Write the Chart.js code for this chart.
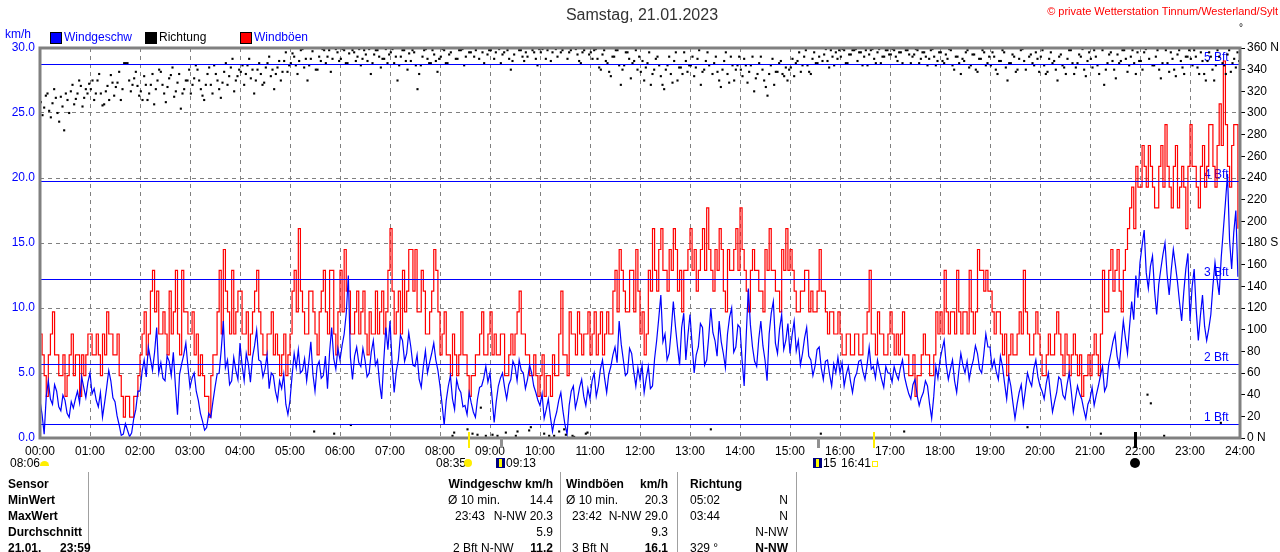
<!DOCTYPE html>
<html>
<head>
<meta charset="utf-8">
<title>Wind 21.01.2023</title>
<script src="https://cdn.jsdelivr.net/npm/chart.js@4.4.1/dist/chart.umd.min.js"></script>
<style>
  body { margin: 0; background: #fff; }
  #page { position: relative; width: 1280px; height: 552px; overflow: hidden; font-family: "Liberation Sans", Arial, sans-serif; font-size: 12px; color: #000; }
  #chart { position: absolute; left: 0; top: 0; }
  .t { position: absolute; white-space: nowrap; line-height: 14px; }
  .b { font-weight: bold; }
  .blue { color: #0000ff; }
  .sq { position: absolute; top: 32px; width: 10px; height: 10px; border: 1px solid #000; }
  .vl { position: absolute; top: 472px; width: 1px; height: 80px; background: #a0a0a0; }
  .moon { position: absolute; top: 458px; width: 9px; height: 10px; background: #000080; }
  .moon i { position: absolute; left: 3px; top: 1px; width: 3px; height: 8px; background: #ffff00; }
</style>
</head>
<body>
<div id="page">
  <canvas id="chart" width="1280" height="552"></canvas>

  <div class="t" style="left:0;width:1284px;top:6px;text-align:center;font-size:16px;line-height:18px;color:#333">Samstag, 21.01.2023</div>
  <div class="t" style="right:2px;top:4px;color:#ff0000;font-size:11px">© private Wetterstation Tinnum/Westerland/Sylt</div>
  <div class="t" style="left:1239px;top:21px;font-size:10px">°</div>

  <div class="t blue" style="left:5px;top:27px">km/h</div>
  <div class="sq" style="left:50px;background:#0000ff"></div>
  <div class="t blue" style="left:64px;top:30px">Windgeschw</div>
  <div class="sq" style="left:145px;background:#000"></div>
  <div class="t" style="left:159px;top:30px">Richtung</div>
  <div class="sq" style="left:240px;background:#ff0000"></div>
  <div class="t blue" style="left:254px;top:30px">Windböen</div>

  <!-- Sonne / Mond unter der Zeitachse -->
  <div class="t" style="left:10px;top:456px">08:06</div>
  <div style="position:absolute;left:40px;top:461px;width:9px;height:5px;background:#ffee00;border-radius:5px 5px 0 0"></div>
  <div class="t" style="left:436px;top:456px">08:35</div>
  <div style="position:absolute;left:464px;top:459px;width:8px;height:8px;background:#ffee00;border-radius:50%"></div>
  <div class="moon" style="left:496px"><i></i></div>
  <div class="t" style="left:506px;top:456px">09:13</div>
  <div class="moon" style="left:813px"><i></i></div>
  <div class="t" style="left:823px;top:456px">15</div>
  <div class="t" style="left:841px;top:456px">16:41</div>
  <div style="position:absolute;left:872px;top:461px;width:4px;height:4px;border:1px solid #ffee00"></div>
  <div style="position:absolute;left:1130px;top:458px;width:10px;height:10px;background:#000;border-radius:50%"></div>

  <!-- Tabelle -->
  <div class="vl" style="left:88px"></div>
  <div class="vl" style="left:560px"></div>
  <div class="vl" style="left:677px"></div>
  <div class="vl" style="left:796px"></div>

  <div class="t b" style="left:8px;top:477px">Sensor</div>
  <div class="t b" style="right:727px;top:477px">Windgeschw km/h</div>
  <div class="t b" style="left:566px;top:477px">Windböen</div>
  <div class="t b" style="right:612px;top:477px">km/h</div>
  <div class="t b" style="left:690px;top:477px">Richtung</div>

  <div class="t b" style="left:8px;top:493px">MinWert</div>
  <div class="t" style="left:448px;top:493px">Ø 10 min.</div>
  <div class="t" style="right:727px;top:493px">14.4</div>
  <div class="t" style="left:566px;top:493px">Ø 10 min.</div>
  <div class="t" style="right:612px;top:493px">20.3</div>
  <div class="t" style="left:690px;top:493px">05:02</div>
  <div class="t" style="right:492px;top:493px">N</div>

  <div class="t b" style="left:8px;top:509px">MaxWert</div>
  <div class="t" style="left:455px;top:509px">23:43</div>
  <div class="t" style="right:727px;top:509px">N-NW 20.3</div>
  <div class="t" style="left:572px;top:509px">23:42</div>
  <div class="t" style="right:612px;top:509px">N-NW 29.0</div>
  <div class="t" style="left:690px;top:509px">03:44</div>
  <div class="t" style="right:492px;top:509px">N</div>

  <div class="t b" style="left:8px;top:525px">Durchschnitt</div>
  <div class="t" style="right:727px;top:525px">5.9</div>
  <div class="t" style="right:612px;top:525px">9.3</div>
  <div class="t" style="right:492px;top:525px">N-NW</div>

  <div class="t b" style="left:8px;top:541px">21.01.</div>
  <div class="t b" style="left:60px;top:541px">23:59</div>
  <div class="t" style="left:453px;top:541px">2 Bft N-NW</div>
  <div class="t b" style="right:727px;top:541px">11.2</div>
  <div class="t" style="left:572px;top:541px">3 Bft N</div>
  <div class="t b" style="right:612px;top:541px">16.1</div>
  <div class="t" style="left:690px;top:541px">329 °</div>
  <div class="t b" style="right:492px;top:541px">N-NW</div>
</div>

<script>
// Windgeschwindigkeit km/h, alle 2,5 Minuten (eine Zeile = eine Stunde)
const wind = [
  2.9, 1.8, 0.3, 3.2, 4.4, 3.0, 2.6, 4.1, 3.6, 2.4, 2.1, 3.3, 2.9, 1.9, 1.6, 2.8, 2.3, 3.0, 3.6, 2.7, 4.7, 3.9, 3.1, 4.3,
  5.0, 3.4, 3.8, 2.9, 2.4, 3.5, 1.6, 2.7, 3.9, 5.2, 4.4, 3.1, 2.8, 1.7, 1.0, 0.2, 0.3, 1.1, 0.6, 0.1, 0.4, 1.5, 2.2, 3.6,
  3.6, 5.1, 6.0, 4.7, 7.0, 6.1, 5.2, 6.6, 8.5, 5.0, 5.8, 4.6, 4.4, 6.3, 5.9, 4.8, 6.6, 4.0, 1.8, 4.9, 5.7, 6.4, 7.3, 5.5,
  3.9, 4.6, 5.0, 3.6, 2.9, 1.9, 1.3, 0.6, 0.8, 1.9, 1.6, 2.8, 3.9, 4.9, 5.0, 6.8, 9.0, 5.4, 6.0, 4.1, 4.4, 6.2, 5.2, 4.5,
  7.3, 5.6, 4.4, 6.5, 5.7, 4.3, 6.2, 7.1, 8.3, 6.0, 5.9, 4.7, 5.3, 6.4, 3.8, 5.0, 4.8, 3.6, 2.9, 4.4, 3.8, 4.9, 2.6, 1.8,
  2.9, 4.8, 6.5, 5.4, 6.8, 5.0, 5.2, 6.1, 4.4, 5.8, 7.4, 4.9, 3.6, 5.5, 5.9, 4.6, 4.8, 6.3, 3.8, 6.6, 8.5, 6.1, 5.3, 6.9,
  6.0, 7.1, 8.0, 9.6, 12.5, 6.2, 4.5, 6.3, 7.0, 5.8, 5.5, 6.9, 6.0, 4.7, 5.0, 6.6, 7.5, 5.6, 6.0, 4.2, 3.0, 5.9, 8.5, 6.8,
  9.0, 5.8, 3.5, 5.1, 6.0, 7.9, 7.5, 5.9, 6.5, 8.1, 7.0, 5.6, 5.5, 6.4, 4.5, 3.9, 5.5, 6.7, 5.0, 5.8, 6.5, 7.3, 6.0, 5.2,
  4.0, 2.6, 1.0, 2.9, 4.0, 4.8, 3.0, 2.2, 4.5, 3.8, 3.5, 2.4, 2.5, 1.8, 3.5, 2.7, 2.0, 1.6, 3.0, 3.9, 4.0, 4.6, 5.5, 4.3,
  5.0, 3.1, 1.2, 2.8, 4.0, 4.6, 5.0, 3.9, 3.0, 4.1, 4.5, 5.9, 5.5, 4.4, 6.0, 5.2, 5.0, 3.8, 4.5, 5.6, 5.0, 4.0, 3.5, 2.9,
  2.5, 3.4, 1.5, 2.2, 3.0, 1.6, 0.5, 1.4, 2.0, 2.9, 3.5, 2.1, 1.0, 0.3, 2.5, 3.6, 4.0, 2.3, 3.0, 3.9, 4.5, 3.2, 2.5, 3.8,
  3.0, 4.4, 5.0, 3.2, 4.0, 5.3, 6.0, 4.6, 3.5, 4.9, 5.5, 6.4, 7.0, 5.8, 9.0, 7.2, 6.0, 4.8, 5.0, 6.9, 6.5, 5.1, 4.0, 5.4,
  4.5, 5.6, 3.5, 4.6, 5.5, 3.8, 4.0, 6.1, 7.5, 9.2, 11.0, 7.4, 8.0, 6.0, 6.5, 8.3, 10.5, 8.6, 7.0, 5.6, 8.5, 9.6, 6.0, 7.9,
  9.5, 7.2, 5.0, 6.4, 7.0, 8.8, 8.5, 5.6, 6.0, 7.8, 10.0, 8.1, 7.5, 6.3, 9.0, 7.4, 6.5, 5.4, 8.0, 9.3, 10.0, 6.6, 7.0, 8.7,
  8.5, 6.0, 4.0, 7.9, 11.5, 8.7, 7.0, 5.9, 5.5, 7.6, 9.0, 7.1, 6.0, 4.4, 8.0, 9.6, 10.5, 7.3, 6.5, 8.4, 9.5, 6.8, 7.5, 8.8,
  6.5, 7.9, 9.0, 6.7, 7.5, 5.6, 6.5, 7.7, 8.5, 6.3, 6.0, 4.8, 5.5, 6.8, 7.0, 5.4, 4.5, 5.9, 6.0, 4.9, 4.0, 5.7, 5.0, 6.2,
  5.0, 5.8, 4.0, 4.9, 5.5, 4.4, 3.5, 4.6, 5.0, 5.9, 6.0, 5.1, 4.5, 5.6, 7.0, 5.3, 5.5, 4.6, 6.0, 5.2, 4.5, 3.9, 5.5, 5.0,
  5.0, 4.3, 5.5, 4.9, 4.5, 5.4, 6.0, 4.7, 4.0, 3.4, 3.0, 4.1, 4.5, 3.3, 2.5, 3.1, 3.5, 4.4, 4.0, 2.6, 1.5, 3.2, 5.5, 4.6,
  6.0, 6.8, 7.5, 5.6, 4.5, 5.3, 6.0, 4.4, 3.5, 5.1, 6.5, 5.6, 5.0, 5.9, 4.5, 5.4, 6.0, 7.1, 6.5, 5.3, 5.0, 6.4, 8.0, 7.0,
  7.0, 5.4, 6.0, 5.1, 4.5, 6.3, 5.5, 4.2, 3.0, 4.8, 4.0, 2.7, 1.5, 2.6, 3.5, 4.1, 2.5, 3.7, 5.0, 4.4, 4.0, 5.3, 6.0, 4.7,
  4.0, 3.6, 3.0, 4.2, 5.0, 3.4, 2.0, 2.8, 3.5, 4.7, 4.5, 3.3, 3.0, 4.1, 5.0, 3.6, 2.0, 3.0, 4.0, 3.4, 3.0, 2.2, 1.5, 2.6,
  3.0, 3.9, 2.5, 3.3, 4.0, 4.8, 5.5, 3.6, 4.0, 5.7, 6.5, 7.4, 8.0, 6.3, 5.5, 7.2, 9.0, 7.7, 6.5, 8.6, 10.5, 9.1, 12.5, 10.8,
  13.5, 14.8, 16.0, 12.7, 11.5, 13.2, 14.0, 11.3, 9.5, 11.8, 13.0, 14.1, 15.0, 12.6, 11.0, 12.9, 14.5, 13.3, 12.0, 10.4, 9.0, 11.2, 13.0, 14.2,
  9.0, 11.6, 13.0, 9.8, 7.5, 9.4, 11.0, 8.6, 7.5, 8.4, 9.5, 11.7, 13.5, 12.2, 11.0, 13.9, 16.0, 18.1, 20.3, 15.2, 13.0, 15.8, 17.5, 12.4
];

// Windböen km/h, alle 2,5 Minuten
const gust = [
  8.0, 6.4, 4.8, 3.2, 6.4, 8.0, 9.7, 6.4, 6.4, 4.8, 4.8, 6.4, 3.2, 4.8, 6.4, 8.0, 4.8, 6.4, 6.4, 3.2, 6.4, 4.8, 6.4, 8.0,
  8.0, 6.4, 6.4, 8.0, 6.4, 4.8, 8.0, 6.4, 9.7, 8.0, 8.0, 6.4, 6.4, 8.0, 4.8, 3.2, 1.6, 3.2, 3.2, 1.6, 1.6, 3.2, 3.2, 4.8,
  6.4, 8.0, 9.7, 6.4, 8.0, 11.3, 12.9, 9.7, 11.3, 8.0, 8.0, 9.7, 8.0, 6.4, 11.3, 8.0, 9.7, 12.9, 8.0, 6.4, 12.9, 9.7, 9.7, 8.0,
  8.0, 9.7, 6.4, 8.0, 4.8, 6.4, 4.8, 3.2, 3.2, 1.6, 4.8, 6.4, 6.4, 9.7, 12.9, 8.0, 14.5, 11.3, 9.7, 8.0, 12.9, 8.0, 9.7, 11.3,
  11.3, 8.0, 8.0, 9.7, 6.4, 8.0, 9.7, 11.3, 12.9, 9.7, 8.0, 6.4, 6.4, 8.0, 8.0, 9.7, 6.4, 8.0, 6.4, 4.8, 6.4, 8.0, 4.8, 6.4,
  8.0, 11.3, 12.9, 9.7, 16.1, 11.3, 9.7, 8.0, 8.0, 11.3, 11.3, 9.7, 8.0, 6.4, 9.7, 11.3, 12.9, 9.7, 8.0, 12.9, 12.9, 8.0, 6.4, 9.7,
  12.9, 9.7, 14.5, 11.3, 11.3, 8.0, 8.0, 9.7, 11.3, 8.0, 9.7, 11.3, 8.0, 6.4, 9.7, 8.0, 8.0, 11.3, 8.0, 9.7, 11.3, 8.0, 9.7, 12.9,
  16.1, 11.3, 8.0, 9.7, 11.3, 8.0, 12.9, 9.7, 11.3, 14.5, 14.5, 11.3, 14.5, 9.7, 9.7, 12.9, 11.3, 8.0, 8.0, 9.7, 11.3, 14.5, 12.9, 9.7,
  6.4, 8.0, 9.7, 6.4, 6.4, 4.8, 8.0, 6.4, 4.8, 6.4, 9.7, 6.4, 6.4, 4.8, 3.2, 4.8, 4.8, 6.4, 6.4, 8.0, 9.7, 6.4, 6.4, 8.0,
  9.7, 6.4, 8.0, 6.4, 6.4, 8.0, 8.0, 4.8, 4.8, 6.4, 8.0, 6.4, 8.0, 9.7, 11.3, 8.0, 8.0, 6.4, 6.4, 4.8, 4.8, 6.4, 4.8, 3.2,
  4.8, 6.4, 3.2, 4.8, 4.8, 3.2, 6.4, 4.8, 4.8, 8.0, 11.3, 6.4, 6.4, 4.8, 9.7, 8.0, 8.0, 6.4, 9.7, 8.0, 6.4, 8.0, 8.0, 9.7,
  6.4, 8.0, 9.7, 6.4, 8.0, 9.7, 6.4, 8.0, 9.7, 8.0, 8.0, 11.3, 12.9, 9.7, 14.5, 12.9, 11.3, 9.7, 9.7, 12.9, 12.9, 9.7, 14.5, 11.3,
  8.0, 9.7, 6.4, 8.0, 12.9, 11.3, 16.1, 12.9, 11.3, 14.5, 16.1, 12.9, 12.9, 11.3, 14.5, 12.9, 16.1, 14.5, 11.3, 12.9, 9.7, 12.9, 12.9, 14.5,
  16.1, 12.9, 14.5, 11.3, 12.9, 14.5, 16.1, 12.9, 17.7, 14.5, 12.9, 11.3, 14.5, 12.9, 16.1, 14.5, 11.3, 9.7, 14.5, 12.9, 12.9, 14.5, 16.1, 12.9,
  17.7, 14.5, 12.9, 11.3, 9.7, 12.9, 14.5, 12.9, 12.9, 11.3, 11.3, 9.7, 14.5, 12.9, 16.1, 12.9, 12.9, 11.3, 11.3, 9.7, 14.5, 12.9, 16.1, 12.9,
  14.5, 12.9, 11.3, 9.7, 9.7, 11.3, 11.3, 12.9, 12.9, 9.7, 11.3, 9.7, 9.7, 11.3, 14.5, 11.3, 11.3, 9.7, 8.0, 9.7, 9.7, 8.0, 8.0, 9.7,
  8.0, 6.4, 6.4, 8.0, 8.0, 6.4, 6.4, 8.0, 8.0, 6.4, 6.4, 8.0, 8.0, 9.7, 12.9, 8.0, 8.0, 6.4, 9.7, 8.0, 8.0, 6.4, 6.4, 8.0,
  9.7, 8.0, 6.4, 8.0, 6.4, 8.0, 9.7, 6.4, 6.4, 4.8, 4.8, 6.4, 3.2, 4.8, 4.8, 6.4, 8.0, 6.4, 6.4, 4.8, 4.8, 6.4, 9.7, 8.0,
  9.7, 8.0, 12.9, 9.7, 8.0, 9.7, 9.7, 8.0, 12.9, 9.7, 8.0, 9.7, 9.7, 8.0, 12.9, 9.7, 8.0, 9.7, 14.5, 12.9, 12.9, 11.3, 12.9, 11.3,
  11.3, 9.7, 8.0, 9.7, 9.7, 8.0, 6.4, 8.0, 4.8, 6.4, 8.0, 6.4, 6.4, 8.0, 9.7, 8.0, 12.9, 9.7, 8.0, 6.4, 6.4, 8.0, 9.7, 8.0,
  6.4, 4.8, 4.8, 6.4, 8.0, 6.4, 6.4, 8.0, 9.7, 8.0, 6.4, 4.8, 8.0, 6.4, 4.8, 6.4, 8.0, 6.4, 4.8, 6.4, 3.2, 4.8, 4.8, 6.4,
  4.8, 6.4, 8.0, 6.4, 4.8, 8.0, 12.9, 9.7, 9.7, 12.9, 14.5, 11.3, 12.9, 14.5, 11.3, 9.7, 12.9, 14.5, 16.1, 17.7, 19.3, 16.1, 20.9, 19.3,
  19.3, 22.5, 20.9, 19.3, 22.5, 20.9, 19.3, 17.7, 17.7, 20.9, 22.5, 19.3, 24.1, 20.9, 19.3, 17.7, 20.9, 22.5, 17.7, 19.3, 20.9, 19.3, 16.1, 20.9,
  24.1, 20.9, 20.9, 19.3, 17.7, 20.9, 22.5, 19.3, 20.9, 24.1, 24.1, 20.9, 19.3, 22.5, 25.7, 22.5, 29.0, 24.1, 20.9, 19.3, 22.5, 24.1, 24.1, 16.1
];

// Windrichtung in Grad, alle 2 Minuten
const richtung = [
  310, 298, 305, 316, 318, 302, 296, 309, 322, 314, 300, 292, 315, 306, 284, 318, 312, 300, 320, 326, 308, 313, 318, 330, 325, 306, 314, 322, 318, 327,
  322, 330, 312, 318, 330, 336, 318, 307, 308, 320, 325, 312, 335, 328, 316, 324, 328, 338, 312, 322, 346, 346, 346, 330, 320, 326, 332, 338, 325, 316,
  320, 312, 334, 326, 312, 318, 326, 336, 308, 322, 330, 340, 338, 326, 318, 310, 324, 332, 335, 342, 315, 320, 328, 336, 304, 318, 322, 330, 330, 340,
  318, 326, 332, 344, 340, 330, 322, 316, 312, 326, 336, 342, 326, 318, 344, 336, 330, 322, 314, 328, 338, 346, 326, 334, 342, 350, 320, 330, 334, 340,
  338, 344, 326, 336, 344, 350, 332, 340, 318, 330, 340, 346, 336, 326, 328, 342, 346, 352, 334, 340, 322, 336, 342, 348, 330, 338, 348, 356, 338, 344,
  346, 355, 352, 344, 336, 348, 358, 359, 342, 350, 330, 344, 350, 357, 6, 340, 340, 352, 348, 359, 358, 346, 352, 358, 338, 350, 4, 359, 356, 348,
  350, 359, 358, 346, 346, 355, 12, 358, 356, 348, 352, 359, 344, 350, 358, 354, 348, 359, 336, 346, 354, 358, 358, 352, 342, 350, 350, 359, 346, 354,
  356, 359, 346, 352, 330, 344, 352, 358, 358, 348, 340, 355, 348, 358, 356, 344, 322, 336, 344, 352, 358, 359, 350, 346, 346, 358, 354, 348, 338, 350,
  352, 359, 358, 346, 346, 354, 356, 2, 5, 350, 350, 358, 358, 359, 344, 352, 8, 356, 356, 4, 352, 358, 3, 350, 28, 356, 346, 2, 354, 358,
  358, 3, 350, 356, 2, 359, 346, 354, 356, 5, 358, 350, 340, 348, 354, 2, 6, 358, 358, 352, 348, 356, 352, 7, 10, 358, 356, 350, 344, 359,
  356, 359, 4, 350, 358, 2, 348, 356, 2, 359, 352, 6, 356, 358, 8, 3, 350, 356, 358, 2, 1, 359, 354, 348, 346, 356, 358, 4, 5, 354,
  356, 350, 358, 359, 350, 342, 340, 354, 358, 348, 346, 338, 334, 352, 352, 358, 358, 344, 326, 340, 344, 356, 356, 350, 332, 346, 348, 358, 340, 352,
  338, 348, 330, 342, 346, 356, 326, 336, 340, 350, 352, 344, 334, 326, 322, 340, 344, 352, 336, 328, 348, 356, 330, 342, 342, 336, 356, 348, 338, 344,
  344, 352, 334, 342, 350, 358, 326, 338, 340, 348, 356, 344, 8, 336, 346, 352, 338, 330, 324, 340, 348, 356, 336, 328, 352, 344, 330, 340, 344, 352,
  340, 334, 350, 344, 328, 338, 344, 352, 320, 332, 336, 346, 352, 340, 330, 324, 316, 336, 344, 350, 326, 338, 338, 346, 348, 336, 334, 342, 330, 340,
  342, 350, 334, 346, 348, 356, 338, 344, 352, 358, 344, 338, 336, 350, 356, 346, 346, 352, 4, 348, 354, 359, 348, 342, 358, 352, 344, 356, 350, 358,
  352, 359, 358, 346, 346, 354, 354, 358, 358, 359, 348, 356, 356, 344, 352, 358, 344, 354, 358, 359, 350, 346, 356, 359, 346, 352, 352, 358, 358, 354,
  354, 359, 358, 352, 348, 356, 356, 346, 6, 358, 358, 354, 346, 352, 354, 359, 358, 346, 350, 356, 356, 352, 344, 350, 358, 359, 352, 344, 348, 356,
  356, 348, 346, 354, 350, 359, 358, 344, 340, 352, 352, 346, 336, 350, 348, 356, 358, 342, 344, 354, 354, 340, 338, 350, 350, 358, 356, 344, 346, 352,
  344, 356, 352, 340, 336, 348, 348, 358, 356, 342, 330, 346, 346, 354, 352, 338, 340, 350, 358, 359, 348, 340, 10, 352, 354, 346, 344, 356, 350, 338,
  352, 358, 344, 336, 338, 350, 356, 346, 348, 340, 330, 352, 354, 344, 342, 336, 350, 358, 358, 346, 336, 342, 346, 354, 352, 359, 340, 334, 348, 356,
  350, 342, 358, 352, 344, 336, 4, 358, 326, 340, 346, 354, 356, 348, 340, 332, 354, 346, 348, 358, 358, 350, 338, 344, 352, 358, 346, 336, 356, 348,
  348, 340, 356, 359, 40, 350, 32, 344, 344, 352, 358, 340, 332, 346, 2, 358, 346, 338, 356, 350, 340, 334, 354, 358, 348, 342, 336, 352, 352, 358,
  350, 344, 358, 352, 342, 336, 356, 348, 336, 330, 348, 356, 352, 340, 330, 344, 358, 352, 14, 346, 344, 336, 354, 358, 338, 346, 350, 342, 356, 348
];

const hourLabels = ['00:00', '01:00', '02:00', '03:00', '04:00', '05:00', '06:00', '07:00',
  '08:00', '09:00', '10:00', '11:00', '12:00', '13:00', '14:00', '15:00', '16:00',
  '17:00', '18:00', '19:00', '20:00', '21:00', '22:00', '23:00', '24:00'];
const dirLabels = { 0: '0 N', 180: '180 S', 360: '360 N' };

// Beaufort-Grenzen in km/h
const bftLevels = [1.1, 5.7, 12.2, 19.8, 28.8];
const bftNames = ['1 Bft', '2 Bft', '3 Bft', '4 Bft', '5 Bft'];

// Sonne/Mond (Minuten seit Mitternacht)
const astro = [
  { t: 515, color: '#ffee00', w: 2, top: -6 },   // Sonnenaufgang 08:35
  { t: 553, color: '#909090', w: 3, top: 0 },    // Mondaufgang 09:13
  { t: 934, color: '#909090', w: 3, top: 0 },    // Monduntergang
  { t: 1001, color: '#ffee00', w: 2, top: -6 },  // Sonnenuntergang 16:41
  { t: 1314, color: '#000000', w: 3, top: -6 }   // Neumond
];

const FONT = '"Liberation Sans", Arial, sans-serif';

const bftY = (chart, v) => Math.round(chart.scales.y.getPixelForValue(v)) + 0.5;

const extras = {
  id: 'extras',
  beforeDatasetsDraw(chart) {
    // Beschriftung liegt unter den Kurven
    const { ctx, chartArea: a } = chart;
    ctx.save();
    ctx.fillStyle = '#0000ff';
    ctx.font = '12px ' + FONT;
    ctx.textBaseline = 'bottom';
    bftLevels.forEach((v, i) => ctx.fillText(bftNames[i], a.right - 36, bftY(chart, v) - 1));
    ctx.restore();
  },
  afterDatasetsDraw(chart) {
    // Bft-Linien über den Kurven
    const { ctx, chartArea: a } = chart;
    ctx.save();
    ctx.strokeStyle = '#0000ff';
    ctx.lineWidth = 1;
    bftLevels.forEach(v => {
      const py = bftY(chart, v);
      ctx.beginPath();
      ctx.moveTo(a.left, py);
      ctx.lineTo(a.right, py);
      ctx.stroke();
    });
    ctx.restore();
  },
  afterDraw(chart) {
    const { ctx, chartArea: a, scales: { x } } = chart;
    ctx.save();
    // Rahmen
    ctx.strokeStyle = '#808080';
    ctx.lineWidth = 3;
    ctx.strokeRect(a.left, a.top, a.right - a.left, a.bottom - a.top);
    // Sonne / Mond Striche
    astro.forEach(m => {
      const px = Math.round(x.getPixelForValue(m.t));
      ctx.fillStyle = m.color;
      ctx.fillRect(px - Math.floor(m.w / 2), a.bottom + m.top, m.w, 10 - m.top);
    });
    ctx.restore();
  }
};

new Chart(document.getElementById('chart'), {
  type: 'line',
  data: {
    datasets: [
      {
        label: 'Richtung',
        data: richtung.map((v, i) => ({ x: i * 2 + 1, y: v })),
        yAxisID: 'y2',
        showLine: false,
        pointStyle: 'rect',
        pointRadius: 1.5,
        pointBorderWidth: 0,
        backgroundColor: '#000',
        borderColor: '#000',
        order: 0
      },
      {
        label: 'Windgeschw',
        data: wind.map((v, i) => ({ x: i * 2.5, y: v })),
        yAxisID: 'y',
        borderColor: '#0000ff',
        borderWidth: 1.2,
        pointRadius: 0,
        tension: 0,
        order: 1
      },
      {
        label: 'Windböen',
        data: gust.map((v, i) => ({ x: i * 2.5, y: v })),
        yAxisID: 'y',
        borderColor: '#ff0000',
        borderWidth: 1.2,
        pointRadius: 0,
        stepped: true,
        order: 2
      }
    ]
  },
  options: {
    responsive: false,
    devicePixelRatio: 1,
    animation: false,
    events: [],
    layout: { padding: { top: 48, left: 0, right: 0, bottom: 0 } },
    plugins: {
      legend: { display: false },
      tooltip: { enabled: false }
    },
    scales: {
      x: {
        type: 'linear',
        min: 0,
        max: 1440,
        z: 1,
        afterFit: s => { s.height = 114; },
        ticks: {
          stepSize: 60,
          autoSkip: false,
          maxRotation: 0,
          padding: 6,
          color: '#000',
          font: { family: FONT, size: 12 },
          callback: v => hourLabels[v / 60]
        },
        grid: { color: '#808080', lineWidth: 1, drawTicks: false },
        border: { display: false, dash: [4, 4] }
      },
      y: {
        position: 'left',
        min: 0,
        max: 30,
        z: 1,
        afterFit: s => { s.width = 40; },
        ticks: {
          stepSize: 5,
          padding: 5,
          color: '#0000ff',
          font: { family: FONT, size: 12 },
          callback: v => v.toFixed(1)
        },
        grid: { color: '#808080', lineWidth: 1, drawTicks: false },
        border: { display: false, dash: [4, 4] }
      },
      y2: {
        position: 'right',
        min: 0,
        max: 360,
        afterFit: s => { s.width = 40; },
        ticks: {
          stepSize: 20,
          autoSkip: false,
          padding: 2,
          color: '#000',
          font: { family: FONT, size: 12 },
          callback: v => dirLabels[v] || String(v)
        },
        grid: { drawOnChartArea: false, color: '#000', tickLength: 5 },
        border: { display: false }
      }
    }
  },
  plugins: [extras]
});
</script>
</body>
</html>
